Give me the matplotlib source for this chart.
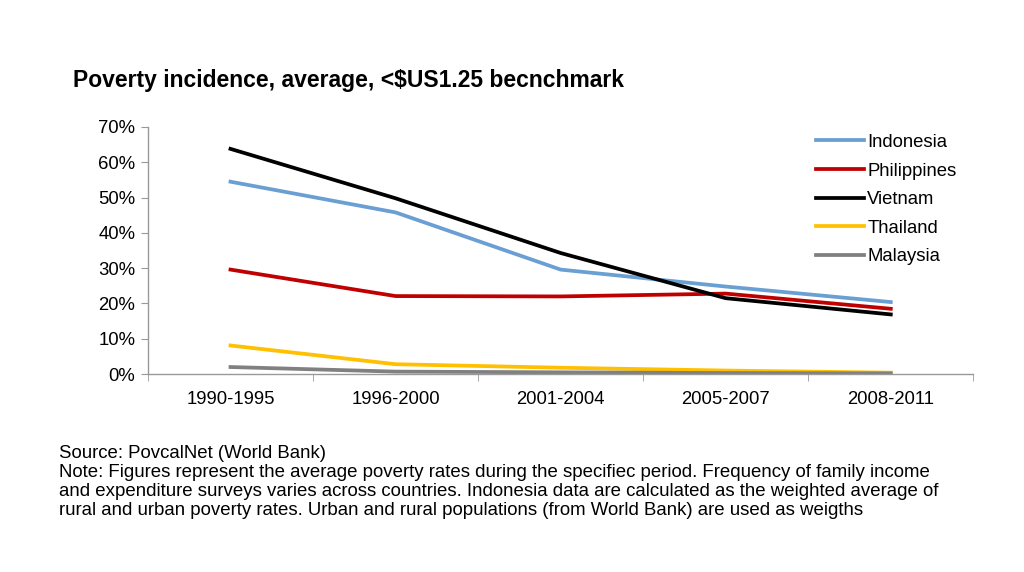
import numpy as np
import matplotlib.pyplot as plt
from matplotlib.ticker import FixedLocator, PercentFormatter

periods = ['1990-1995', '1996-2000', '2001-2004', '2005-2007', '2008-2011']
indonesia = [54.5, 45.8, 29.6, 24.8, 20.4]
philippines = [29.6, 22.1, 22.0, 22.8, 18.5]
vietnam = [63.8, 49.8, 34.3, 21.5, 16.9]
thailand = [8.1, 2.8, 1.8, 1.0, 0.4]
malaysia = [2.0, 0.7, 0.5, 0.3, 0.2]

series = [('Indonesia', indonesia, '#6a9fd3'),
          ('Philippines', philippines, '#c00000'),
          ('Vietnam', vietnam, '#000000'),
          ('Thailand', thailand, '#ffc000'),
          ('Malaysia', malaysia, '#808080')]

plt.rcParams['font.family'] = ['Liberation Sans', 'DejaVu Sans']

fig = plt.figure(figsize=(10.24, 5.72), dpi=100)
ax = fig.add_axes([0.1445, 0.346, 0.806, 0.432])

x = np.arange(len(periods))
for name, vals, col in series:
    ax.plot(x, vals, color=col, linewidth=2.7, label=name, solid_joinstyle='round')

ax.set_xlim(-0.5, len(periods) - 0.5)
ax.set_ylim(0, 70)
ax.set_yticks(np.arange(0, 71, 10))
ax.yaxis.set_major_formatter(PercentFormatter(decimals=0))
ax.set_xticks(x)
ax.set_xticklabels(periods)
ax.xaxis.set_minor_locator(FixedLocator(np.arange(-0.5, len(periods), 1.0)))
ax.tick_params(axis='x', which='major', length=0, pad=12, labelsize=13.3)
ax.tick_params(axis='x', which='minor', length=5, color='#999999')
ax.tick_params(axis='y', length=5, color='#999999', labelsize=13.3, pad=4)
for s in ['top', 'right']:
    ax.spines[s].set_visible(False)
for s in ['left', 'bottom']:
    ax.spines[s].set_color('#999999')
    ax.spines[s].set_linewidth(1.0)

ax.legend(loc='upper left', bbox_to_anchor=(0.8, 1.002), frameon=False,
          fontsize=13.3, handlelength=2.6, handletextpad=0.2, labelspacing=0.63,
          borderaxespad=0.0)

fig.text(0.071, 0.86, 'Poverty incidence, average, <$US1.25 becnchmark',
         fontsize=16.5, fontweight='bold', va='center', ha='left')

note = ('Source: PovcalNet (World Bank)\n'
        'Note: Figures represent the average poverty rates during the specifiec period. Frequency of family income\n'
        'and expenditure surveys varies across countries. Indonesia data are calculated as the weighted average of\n'
        'rural and urban poverty rates. Urban and rural populations (from World Bank) are used as weigths')
fig.text(0.058, 0.222, note, fontsize=13.4, va='top', ha='left', linespacing=1.16)

fig.savefig('out.png', dpi=100)
